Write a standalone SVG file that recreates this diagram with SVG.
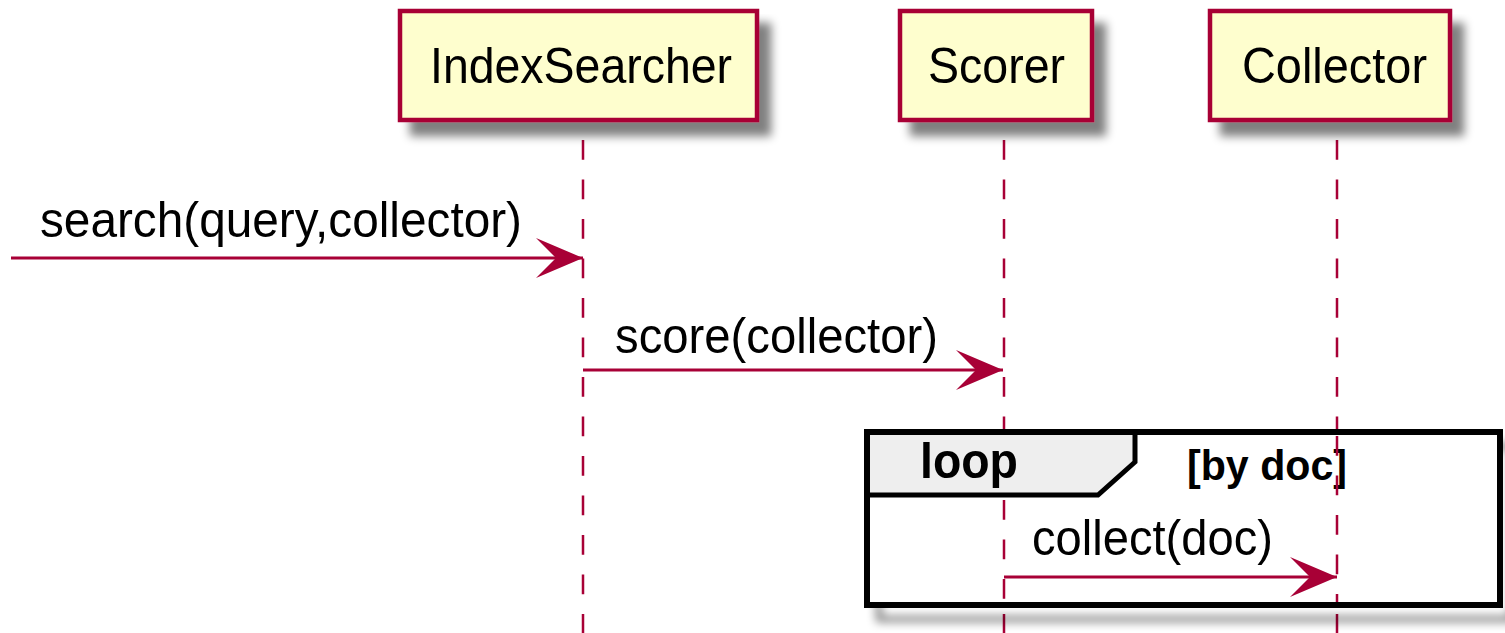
<svg xmlns="http://www.w3.org/2000/svg" width="1505" height="633" viewBox="0 0 1505 633">
<defs>
<filter id="sh" x="-10%" y="-10%" width="130%" height="140%">
<feGaussianBlur in="SourceAlpha" stdDeviation="5"/>
<feOffset dx="12" dy="14" result="b"/>
<feComponentTransfer><feFuncA type="linear" slope="0.5"/></feComponentTransfer>
<feMerge><feMergeNode/><feMergeNode in="SourceGraphic"/></feMerge>
</filter>
<marker id="ah" markerUnits="userSpaceOnUse" markerWidth="50" markerHeight="42" refX="47" refY="20" orient="auto">
<path d="M0,0 L47,20 L0,40 L20,20 Z" fill="#A80036"/>
</marker>
<style>
.box{fill:#FEFECE;stroke:#A80036;stroke-width:4.5}
.life{stroke:#A80036;stroke-width:2.5;stroke-dasharray:19.75,19.75;fill:none}
.msg{stroke:#A80036;stroke-width:3;fill:none}
.t{font-family:"Liberation Sans",Arial,sans-serif;font-size:50px;fill:#000}
.b{font-family:"Liberation Sans",Arial,sans-serif;font-weight:bold;fill:#000}
</style>
</defs>
<rect width="1505" height="633" fill="#FFFFFF"/>
<g id="lifelines">
<line class="life" x1="583" y1="140" x2="583" y2="640"/>
<line class="life" x1="1004" y1="140" x2="1004" y2="640"/>
<line class="life" x1="1337" y1="140" x2="1337" y2="640"/>
</g>
<g id="IndexSearcher">
<rect class="box" x="400" y="11" width="357" height="109" filter="url(#sh)"/>
<text class="t" x="430" y="83" textLength="302" lengthAdjust="spacingAndGlyphs">IndexSearcher</text>
</g>
<g id="Scorer">
<rect class="box" x="900" y="11" width="192" height="109" filter="url(#sh)"/>
<text class="t" x="928" y="83" textLength="137" lengthAdjust="spacingAndGlyphs">Scorer</text>
</g>
<g id="Collector">
<rect class="box" x="1210" y="11" width="240" height="109" filter="url(#sh)"/>
<text class="t" x="1242" y="83" textLength="185" lengthAdjust="spacingAndGlyphs">Collector</text>
</g>
<g id="loop">
<rect x="867" y="432" width="633" height="173" fill="none" stroke="#000" stroke-width="6" filter="url(#sh)"/>
<rect x="867" y="432" width="633" height="173" fill="#FFFFFF" stroke="none"/>
<path d="M867,432 L1135,432 L1135,462 L1098,495 L867,495 Z" fill="#EEEEEE" stroke="#000" stroke-width="5"/>
<rect x="867" y="432" width="633" height="173" fill="none" stroke="#000" stroke-width="6"/>
<text class="b" x="920" y="478" font-size="50" textLength="98" lengthAdjust="spacingAndGlyphs">loop</text>
<text class="b" x="1187" y="480" font-size="42" textLength="160" lengthAdjust="spacingAndGlyphs">[by doc]</text>
<line class="life" x1="1004" y1="500" x2="1004" y2="602"/>
<line class="life" x1="1337" y1="436" x2="1337" y2="602"/>
</g>
<g id="connectors">
<line class="msg" x1="11" y1="258" x2="583" y2="258" marker-end="url(#ah)"/>
<text class="t" x="40" y="237" textLength="482" lengthAdjust="spacingAndGlyphs">search(query,collector)</text>
<line class="msg" x1="583" y1="370" x2="1003" y2="370" marker-end="url(#ah)"/>
<text class="t" x="615" y="353" textLength="323" lengthAdjust="spacingAndGlyphs">score(collector)</text>
<line class="msg" x1="1004" y1="577" x2="1337" y2="577" marker-end="url(#ah)"/>
<text class="t" x="1032" y="555" textLength="241" lengthAdjust="spacingAndGlyphs">collect(doc)</text>
</g>
</svg>
